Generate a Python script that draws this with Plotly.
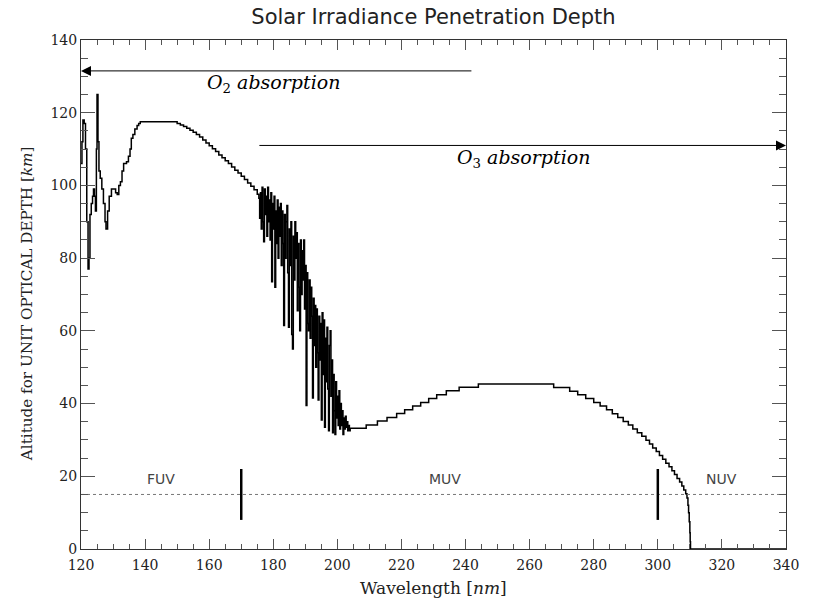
import plotly.graph_objects as go

# ---- data ----
# Lyman-alpha / O2 window region (nm, km)
wl_lya = [120.0, 120.3, 120.6, 121.0, 121.4, 121.8, 122.2, 122.5, 122.8, 123.2, 123.6, 123.9,
          124.2, 124.5, 124.8, 125.0, 125.3, 125.6, 126.0, 126.5, 127.0, 127.5, 127.8, 128.3,
          128.8, 129.5, 130.2, 130.8, 131.3, 131.8, 132.3, 132.8, 133.3, 134.2, 134.8, 135.3,
          135.7, 136.2, 136.8, 137.5, 138.0]
alt_lya = [106, 112, 118, 117, 110, 90, 77, 80, 92, 95, 97, 99,
           97, 93, 110, 125, 112, 104, 102, 99, 95, 90, 88, 93,
           97, 99, 99, 98, 97.5, 100, 101, 104, 106, 106.5, 108, 110,
           113, 114, 115.5, 116.5, 117]

# Schumann-Runge continuum
wl_src = [138.5, 150, 151, 152, 153, 154, 155, 156, 157, 158, 159, 160, 161, 162, 163, 164,
          165, 166, 167, 168, 169, 170, 171, 172, 173, 174, 175]
alt_src = [117.5, 117.0, 116.6, 116.2, 115.7, 115.2, 114.6, 114.0, 113.3, 112.5, 111.7, 110.9,
           110.1, 109.3, 108.4, 107.6, 106.8, 106.0, 105.1, 104.2, 103.4, 102.5, 101.6, 100.7,
           99.8, 98.8, 97.6]

# Schumann-Runge bands (noisy part)
wl_srb = [175.50, 175.75, 176.00, 176.25, 176.50, 176.75, 177.00, 177.25, 177.50, 177.75,
          178.00, 178.25, 178.50, 178.75, 179.00, 179.25, 179.50, 179.75, 180.00, 180.25,
          180.50, 180.75, 181.00, 181.25, 181.50, 181.75, 182.00, 182.25, 182.50, 182.75,
          183.00, 183.25, 183.50, 183.75, 184.00, 184.25, 184.50, 184.75, 185.00, 185.25,
          185.50, 185.75, 186.00, 186.25, 186.50, 186.75, 187.00, 187.25, 187.50, 187.75,
          188.00, 188.25, 188.50, 188.75, 189.00, 189.25, 189.50, 189.75, 190.00, 190.25,
          190.50, 190.75, 191.00, 191.25, 191.50, 191.75, 192.00, 192.25, 192.50, 192.75,
          193.00, 193.25, 193.50, 193.75, 194.00, 194.25, 194.50, 194.75, 195.00, 195.25,
          195.50, 195.75, 196.00, 196.25, 196.50, 196.75, 197.00, 197.25, 197.50, 197.75,
          198.00, 198.25, 198.50, 198.75, 199.00, 199.25, 199.50, 199.75, 200.00, 200.25,
          200.50, 200.75, 201.00, 201.25, 201.50, 201.75, 202.00, 202.25, 202.50, 202.75,
          203.00, 203.25, 203.50, 203.75, 204.00]
alt_srb = [96.5, 91, 98, 88, 99.5, 90, 84.5, 99, 92, 97,
           86, 99.5, 90, 96, 85, 98, 73.5, 95, 88, 97,
           72, 93, 84, 96, 80, 94, 86, 95, 78, 93,
           84, 61.5, 92, 80, 90, 94.5, 76, 61, 88, 78,
           90, 59, 55, 86, 74, 90, 80, 87, 65.5, 84,
           72, 60, 85, 70, 82, 74, 85, 66, 78, 39.5,
           76, 62, 60, 74, 58, 72, 64, 41.5, 69, 56,
           67, 50, 66, 54, 41, 64, 52, 62, 35.5, 65,
           48, 63, 33.5, 58, 46, 61, 44, 32.5, 56, 60,
           42, 52, 32, 48, 38, 31.5, 46, 36, 42, 34,
           43.5, 33, 40, 34, 38, 31.5, 36, 33, 36.5, 33.5,
           35, 32.5, 34, 32.5, 33.2]

# Hartley band (O3)
wl_hart = [204.25, 209.0, 212.5, 215.5, 218.5, 221.0, 223.5, 226.0, 228.5, 231.0, 234.0,
           238.0, 244.0, 267.5, 272.5, 275.0, 277.5, 280.0, 282.0, 284.0, 285.8, 287.5,
           289.2, 290.8, 292.2, 293.6, 295.0, 296.3, 297.4, 298.4, 299.5, 300.5, 301.5,
           302.5, 303.5, 304.4, 305.2, 306.0, 306.8, 307.5, 308.1]
alt_hart = [33.2, 34.1, 35.2, 36.2, 37.3, 38.3, 39.3, 40.3, 41.4, 42.4, 43.5,
            44.5, 45.4, 44.4, 43.4, 42.4, 41.4, 40.3, 39.3, 38.3, 37.2, 36.2,
            35.1, 34.1, 33.0, 32.0, 31.0, 29.9, 28.9, 27.8, 26.8, 25.7, 24.7,
            23.6, 22.6, 21.5, 20.5, 19.4, 18.4, 17.3, 16.2]

# cutoff to the ground
wl_cut = [308.7, 309.1, 309.4, 309.6, 309.8, 310.0, 310.1, 310.2, 340.0]
alt_cut = [15.2, 14.0, 12.0, 10.0, 7.5, 4.5, 2.0, 0.0, 0.0]

band_edges = [170, 300]
band_names = ["FUV", "MUV", "NUV"]
band_name_x = [145, 233.5, 320]
band_line_alt = 15
band_label_alt = 19.3
edge_marker_alt = [8, 22]

wl = wl_lya + wl_src + wl_srb + wl_hart + wl_cut
alt = alt_lya + alt_src + alt_srb + alt_hart + alt_cut

SERIF = "DejaVu Serif"
SANS = "DejaVu Sans"

fig = go.Figure()
fig.add_trace(go.Scatter(x=wl, y=alt, mode="lines", line_shape="hv",
                         line=dict(color="black", width=1.5), showlegend=False,
                         hoverinfo="skip"))

# dotted band separator line
fig.add_trace(go.Scatter(x=[120, 340], y=[band_line_alt, band_line_alt], mode="lines",
                         line=dict(color="#777", width=1, dash="dot"), showlegend=False,
                         hoverinfo="skip"))
for e in band_edges:
    fig.add_trace(go.Scatter(x=[e, e], y=edge_marker_alt, mode="lines",
                             line=dict(color="black", width=2.5), showlegend=False,
                             hoverinfo="skip"))

annotations = []
for name, xx in zip(band_names, band_name_x):
    annotations.append(dict(x=xx, y=band_label_alt, xref="x", yref="y", text=name,
                            showarrow=False, font=dict(family=SANS, size=14, color="#444")))

# absorption arrows
annotations.append(dict(x=120, y=131.5, ax=242.3, ay=131.5, xref="x", yref="y",
                        axref="x", ayref="y", text="", showarrow=True, arrowhead=2,
                        arrowsize=2, arrowwidth=1, arrowcolor="black", standoff=0))
annotations.append(dict(x=340, y=111, ax=175.2, ay=111, xref="x", yref="y",
                        axref="x", ayref="y", text="", showarrow=True, arrowhead=2,
                        arrowsize=2, arrowwidth=1, arrowcolor="black", standoff=0))
annotations.append(dict(x=180.0, y=127.9, xref="x", yref="y",
                        text="<i>O</i><sub>2</sub><i> absorption</i>", showarrow=False,
                        font=dict(family=SERIF, size=19, color="black")))
annotations.append(dict(x=258.0, y=107.4, xref="x", yref="y",
                        text="<i>O</i><sub>3</sub><i> absorption</i>", showarrow=False,
                        font=dict(family=SERIF, size=19, color="black")))

# axis titles
annotations.append(dict(x=0.5, y=-0.077, xref="paper", yref="paper",
                        text="Wavelength [<i>nm</i>]", showarrow=False,
                        yanchor="middle", font=dict(family=SERIF, size=17, color="#222")))
annotations.append(dict(x=-0.0766, y=0.483, xref="paper", yref="paper",
                        text="Altitude for UNIT OPTICAL DEPTH [<i>km</i>]", showarrow=False,
                        textangle=-90, xanchor="center", yanchor="middle",
                        font=dict(family=SERIF, size=15.2, color="#222")))

axis_common = dict(showline=True, linecolor="#333", linewidth=1, mirror="allticks",
                   ticks="inside", tickcolor="#555", tickwidth=1, showgrid=False,
                   zeroline=False, tickfont=dict(family=SERIF, size=14, color="#222"))

fig.update_layout(
    width=815, height=600,
    margin=dict(l=81, r=29, t=40, b=51),
    paper_bgcolor="white", plot_bgcolor="white",
    title=dict(text="Solar Irradiance Penetration Depth", x=0.5, xref="paper",
               y=1 - 17 / 600, yref="container", xanchor="center", yanchor="middle",
               font=dict(family=SANS, size=21, color="#222")),
    xaxis=dict(range=[120, 340], tick0=120, dtick=20, ticklen=10, ticklabelstandoff=3,
               minor=dict(dtick=5, ticklen=5, ticks="inside", tickcolor="#555"),
               **axis_common),
    yaxis=dict(range=[0, 140], tick0=0, dtick=20, ticklen=14,
               minor=dict(dtick=5, ticklen=7, ticks="inside", tickcolor="#555"),
               **axis_common),
    annotations=annotations,
)

fig.write_html("out.html")
